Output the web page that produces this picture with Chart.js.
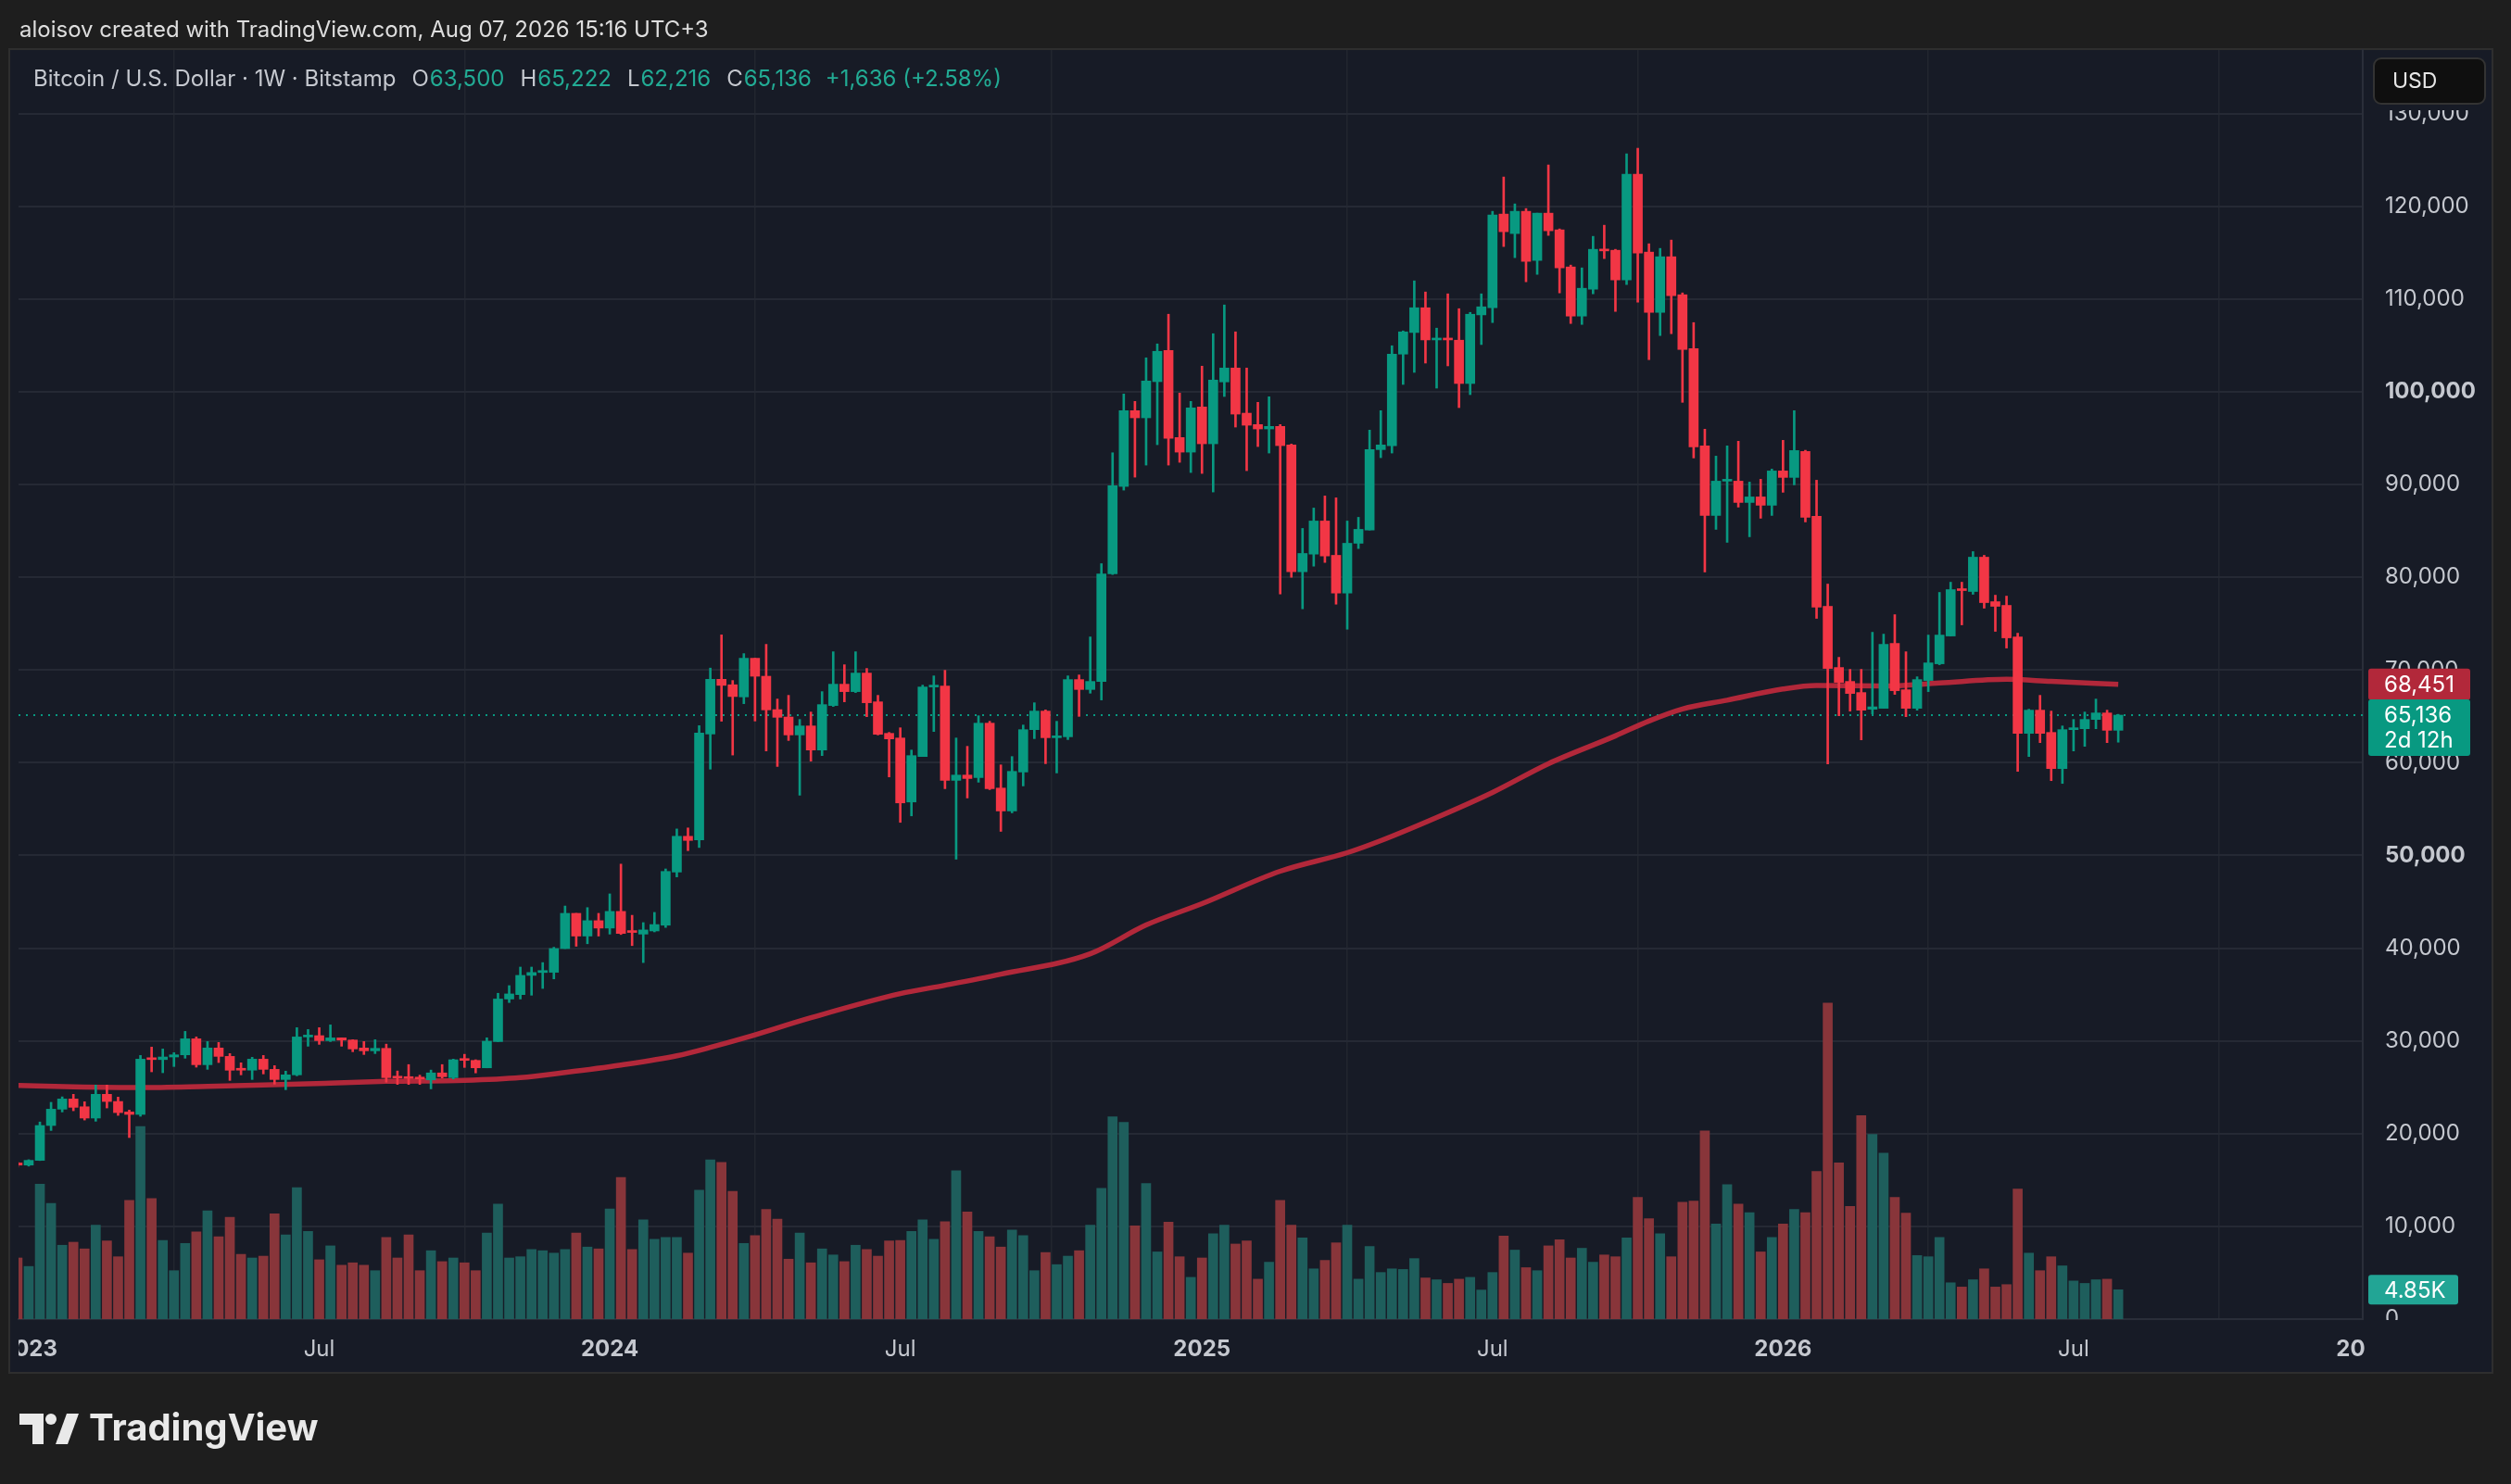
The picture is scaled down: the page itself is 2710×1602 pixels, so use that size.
<!DOCTYPE html>
<html>
<head>
<meta charset="utf-8">
<script src="https://cdn.jsdelivr.net/npm/chart.js@4.4.1/dist/chart.umd.min.js"></script>
<style>
  html, body { margin: 0; padding: 0; background: #1e1e1e; overflow: hidden; }
  canvas { display: block; }
</style>
</head>
<body>
<canvas id="btc" width="2710" height="1602" style="width:2710px;height:1602px"></canvas>
<script>
// weekly candles, index 0 = week of 2022-12-26
const firstWeek = "2022-12-26";

const opens = [
  16840, 16610, 17120, 20880, 22640, 23740, 22900, 21680, 24240, 23470,
  22340, 22075, 28100, 27990, 28270, 28500, 30230, 27435, 29235, 28335,
  27000, 26850, 28035, 26935, 25840, 26340, 30430, 30570, 30030, 30330,
  30100, 29235, 28935, 29200, 26100, 26040, 25970, 25800, 26550, 26040,
  27970, 27900, 27100, 29930, 34520, 35000, 37070, 37380, 37400, 39960,
  43760, 41310, 42970, 42170, 43970, 41800, 41520, 41860, 42480, 48210,
  52070, 51690, 63100, 69000, 68410, 67100, 71270, 69330, 65730, 64930,
  63000, 63970, 61370, 66170, 68470, 67670, 69670, 66570, 63170, 62670,
  55770, 60670, 68170, 68270, 58100, 58670, 58400, 64270, 57270, 54800,
  59000, 63570, 65570, 62700, 62800, 68970, 67900, 68770, 80370, 89800,
  97970, 97200, 101100, 104470, 95070, 93500, 98370, 94400, 101070, 102570,
  97700, 96470, 96000, 96270, 94270, 80600, 82500, 86070, 82370, 78300,
  83670, 85100, 93770, 94200, 104070, 106400, 109070, 105600, 105800, 105570,
  100900, 108300, 109070, 119170, 117070, 119470, 114170, 119270, 117470, 113470,
  108170, 111070, 115370, 115270, 112070, 123470, 115070, 108570, 114570, 110470,
  104670, 94170, 86670, 90370, 90370, 88070, 88670, 87770, 91470, 90770,
  93570, 86570, 76870, 70270, 68770, 67570, 65770, 65870, 72870, 67870,
  65870, 68870, 70670, 73670, 78770, 78470, 82170, 77370, 76970, 73570,
  63170, 65670, 63270, 59370, 63570, 63670, 64670, 65370, 63500
];
const highs = [
  16960, 17190, 21260, 23380, 23970, 24240, 23440, 25240, 25240, 23940,
  22540, 28435, 29334, 29130, 28735, 31030, 30430, 29934, 29834, 28635,
  27640, 28235, 28435, 27335, 26740, 31430, 31230, 31430, 31730, 30330,
  30130, 29934, 30130, 29655, 26760, 27450, 26310, 26860, 27450, 28040,
  28560, 27970, 30340, 35140, 35965, 37965, 37965, 38450, 40100, 44550,
  43760, 44380, 43760, 45860, 49070, 43550, 42760, 43860, 48550, 52860,
  52970, 64000, 70210, 73790, 68870, 71770, 71270, 72770, 66870, 67270,
  64670, 65470, 67670, 71970, 70570, 71970, 70170, 67270, 63270, 63770,
  61370, 68370, 69370, 69970, 62670, 61770, 65070, 64470, 59770, 60670,
  64070, 66470, 65700, 64470, 69370, 69470, 73570, 81470, 93430, 99770,
  98970, 103670, 105170, 108370, 99870, 98970, 102770, 106270, 109370, 106470,
  102570, 98870, 99470, 96470, 94370, 85270, 87470, 88770, 88570, 86070,
  86470, 95870, 97970, 104970, 106570, 111970, 110770, 106870, 110570, 108970,
  108570, 110570, 119470, 123170, 120270, 119770, 119270, 124470, 117570, 113670,
  113370, 116770, 117970, 115370, 125670, 126270, 115970, 115470, 116370, 110670,
  107470, 95970, 93070, 94170, 94670, 90270, 90570, 91670, 94770, 97970,
  93700, 90470, 79270, 71370, 70070, 70070, 74070, 73870, 75970, 71970,
  69270, 73770, 78370, 79470, 79470, 82770, 82370, 78070, 77970, 73970,
  65770, 67270, 65570, 63970, 64670, 65470, 66870, 65670, 65222
];
const lows = [
  16400, 16500, 17100, 20340, 22340, 22470, 21470, 21340, 22770, 21970,
  19580, 21875, 26670, 26570, 27240, 28135, 27170, 26936, 27670, 25740,
  26340, 25840, 26440, 25340, 24740, 26240, 29430, 29630, 29930, 29430,
  28835, 28535, 28635, 25555, 25310, 25310, 25310, 24830, 26000, 25900,
  27140, 26550, 27100, 29930, 34140, 34520, 34930, 35660, 36690, 39960,
  40210, 40480, 41310, 41520, 41480, 40280, 38450, 41760, 42240, 47690,
  50520, 50860, 59310, 64480, 60830, 66370, 64500, 61270, 59600, 62400,
  56500, 60170, 60770, 66070, 66570, 67570, 64970, 63000, 58470, 53570,
  54270, 60670, 63370, 57200, 49600, 56200, 57900, 57100, 52600, 54600,
  57500, 62600, 59900, 58900, 62500, 65000, 67500, 66770, 80300, 89400,
  90800, 92100, 94300, 92100, 92400, 91300, 91200, 89200, 99500, 96200,
  91500, 94100, 93400, 78200, 80000, 76600, 81200, 81600, 77100, 74400,
  83100, 85100, 92900, 93400, 100800, 102100, 103100, 100400, 102800, 98300,
  99700, 105100, 107470, 115670, 114470, 111870, 112670, 116870, 110670, 107370,
  107270, 110570, 114370, 108670, 111570, 109670, 103470, 106070, 106270, 98870,
  92870, 80570, 85170, 83770, 87570, 84370, 86370, 86670, 89170, 89970,
  85970, 75570, 59870, 65070, 65570, 62470, 65270, 65870, 67370, 64970,
  65670, 67670, 70570, 73670, 74870, 78170, 76670, 74170, 72370, 59070,
  60670, 62170, 58070, 57770, 61270, 61770, 63670, 62170, 62216
];
const closes = [
  16610, 17120, 20880, 22640, 23740, 22840, 21680, 24240, 23470, 22270,
  22075, 28035, 27990, 28270, 28500, 30230, 27435, 29235, 28335, 26840,
  26850, 28035, 26935, 25840, 26340, 30430, 30570, 30030, 30330, 30090,
  29135, 28935, 29200, 26040, 26000, 25950, 25900, 26550, 26140, 27970,
  27900, 27100, 29970, 34520, 35070, 37070, 37380, 37590, 39965, 43760,
  41310, 42970, 42170, 43970, 41590, 41700, 41970, 42550, 48280, 52070,
  51620, 63210, 69000, 68345, 67140, 71270, 69330, 65700, 64900, 63000,
  63970, 61370, 66270, 68470, 67670, 69670, 66470, 63070, 62570, 55670,
  60770, 68170, 68300, 58100, 58670, 58300, 64270, 57200, 54800, 59070,
  63570, 65570, 62700, 62900, 68970, 67900, 68770, 80370, 89870, 97970,
  97200, 101170, 104370, 95000, 93500, 98270, 94400, 101270, 102570, 97600,
  96400, 96000, 96270, 94200, 80600, 82570, 86070, 82300, 78300, 83670,
  85170, 93770, 94270, 104070, 106470, 109070, 105600, 105800, 105600, 100900,
  108370, 109170, 119070, 117270, 119470, 114070, 119270, 117370, 113370, 108170,
  111170, 115370, 115200, 112070, 123470, 114970, 108570, 114570, 110370, 104570,
  94070, 86670, 90370, 90450, 88070, 88670, 87770, 91470, 90770, 93670,
  86470, 76770, 70170, 68670, 67470, 65670, 66030, 72770, 67770, 65870,
  68970, 70770, 73770, 78670, 78570, 82170, 77270, 76870, 73470, 63170,
  65670, 63170, 59370, 63570, 63770, 64670, 65370, 63500, 65136
];
// volume in thousands of BTC
const volumes = [
  10.1, 8.7, 22.3, 19.1, 12.2, 12.7, 11.6, 15.5, 12.9, 10.3,
  19.6, 31.8, 19.9, 13.0, 8.0, 12.5, 14.4, 17.9, 13.6, 16.8,
  10.7, 10.1, 10.4, 17.4, 13.9, 21.7, 14.5, 9.8, 12.1, 8.9,
  9.3, 8.9, 8.0, 13.5, 10.1, 13.9, 8.0, 11.3, 9.5, 10.1,
  9.3, 8.0, 14.2, 19.0, 10.1, 10.3, 11.5, 11.3, 10.9, 11.5,
  14.2, 11.9, 11.6, 18.2, 23.4, 11.5, 16.4, 13.2, 13.5, 13.5,
  10.9, 21.3, 26.3, 25.9, 21.1, 12.5, 13.8, 18.1, 16.5, 9.9,
  14.2, 9.3, 11.6, 10.6, 9.5, 12.2, 11.5, 10.4, 12.9, 13.0,
  14.5, 16.4, 13.2, 16.1, 24.5, 17.7, 14.5, 13.6, 11.9, 14.7,
  13.8, 8.0, 11.0, 9.0, 10.4, 11.3, 15.5, 21.6, 33.4, 32.5,
  15.4, 22.4, 11.1, 16.0, 10.3, 6.9, 10.1, 14.1, 15.5, 12.4,
  12.9, 6.6, 9.4, 19.6, 15.5, 13.4, 8.3, 9.7, 12.6, 15.5,
  6.6, 12.0, 7.7, 8.3, 8.2, 10.0, 6.8, 6.5, 5.9, 6.6,
  6.9, 4.8, 7.7, 13.7, 11.4, 8.5, 8.0, 12.1, 13.1, 10.1,
  11.7, 9.4, 10.6, 10.3, 13.4, 20.1, 16.6, 14.1, 10.3, 19.3,
  19.5, 31.1, 15.7, 22.2, 19.0, 17.6, 11.1, 13.5, 15.7, 18.1,
  17.6, 24.4, 52.2, 25.8, 18.6, 33.6, 30.5, 27.4, 20.1, 17.5,
  10.5, 10.3, 13.5, 6.0, 5.3, 6.5, 8.3, 5.3, 5.7, 21.5,
  10.9, 8.0, 10.3, 8.8, 6.3, 5.9, 6.5, 6.6, 4.85
];
// moving average, read at a few weeks along the curve
const maWeeks = [0, 5, 11, 17, 22, 28, 33, 40, 45, 49, 54, 59, 62, 65, 71, 79, 83, 88, 96, 101,
                 106, 113, 119, 122, 127, 132, 137, 143, 146, 149, 153, 158, 161, 167, 172, 178, 182, 188];
const maValues = [25200, 25050, 24970, 25100, 25240, 25450, 25640, 25750, 26050, 26600, 27400, 28400,
                  29300, 30300, 32500, 35100, 36000, 37200, 39400, 42500, 44800, 48300, 50300, 51600,
                  54100, 56800, 59900, 62900, 64500, 65800, 66750, 67950, 68330, 68270, 68600, 69000, 68770, 68451];

const xTickWeeks = [1, 27, 53, 79, 106, 132, 158, 184, 210];
const xTickLabels = ["2023", "Jul", "2024", "Jul", "2025", "Jul", "2026", "Jul", "2027"];
const priceTicks = [0, 10000, 20000, 30000, 40000, 50000, 60000, 70000, 80000, 90000, 100000, 110000, 120000, 130000];
const timeLeft = "2d 12h";

const FONT = "Inter, Roboto, 'Noto Sans', sans-serif";
const GREEN = "#089981";
const RED = "#f23645";
const VOL_GREEN = "#1e5e5c";
const VOL_RED = "#88353a";
const MA_COLOR = "#b2283a";
const GRID = "#252934";
const VGRID = "#22262f";
const PANEL = "#171b26";
const TEXT = "#c5c8cf";

const fmt = v => v.toLocaleString("en-US");
const idx = opens.map((_, i) => i);
const isUp = i => closes[i] >= opens[i];
const last = closes.length - 1;

function roundRect(ctx, x, y, w, h, r) {
  ctx.beginPath();
  ctx.moveTo(x + r, y);
  ctx.arcTo(x + w, y, x + w, y + h, r);
  ctx.arcTo(x + w, y + h, x, y + h, r);
  ctx.arcTo(x, y + h, x, y, r);
  ctx.arcTo(x, y, x + w, y, r);
  ctx.closePath();
}

const tvPlugin = {
  id: "tv",
  beforeDraw(chart) {
    const ctx = chart.ctx;
    ctx.save();
    ctx.fillStyle = "#1e1e1e";
    ctx.fillRect(0, 0, chart.width, chart.height);
    ctx.fillStyle = "#dedede";
    ctx.font = `24px ${FONT}`;
    ctx.textBaseline = "middle";
    ctx.fillText("aloisov created with TradingView.com, Aug 07, 2026 15:16 UTC+3", 21, 33);
    ctx.fillStyle = PANEL;
    ctx.fillRect(10, 53, 2680, 1429);
    ctx.strokeStyle = "#2e2e2e";
    ctx.lineWidth = 2;
    ctx.strokeRect(10, 53, 2680, 1429);
    ctx.restore();
  },
  beforeDatasetsDraw(chart) {
    // dotted line at the last close
    const ctx = chart.ctx, ca = chart.chartArea;
    const y = Math.round(chart.scales.y.getPixelForValue(closes[last]));
    ctx.save();
    ctx.strokeStyle = GREEN;
    ctx.lineWidth = 2;
    ctx.setLineDash([2, 6]);
    ctx.beginPath();
    ctx.moveTo(ca.left, y);
    ctx.lineTo(ca.right, y);
    ctx.stroke();
    ctx.restore();
  },
  afterDraw(chart) {
    const ctx = chart.ctx, ca = chart.chartArea;
    const xs = chart.scales.x, ys = chart.scales.y, yv = chart.scales.yVol;
    ctx.save();

    // legend line
    let x = 36;
    const ly = 86;
    ctx.font = `24px ${FONT}`;
    ctx.textBaseline = "middle";
    ctx.textAlign = "left";
    const seg = (t, c, gap) => { ctx.fillStyle = c; ctx.fillText(t, x, ly); x += ctx.measureText(t).width + gap; };
    const change = closes[last] - closes[last - 1];
    const pct = (change / closes[last - 1] * 100).toFixed(2);
    const valCol = isUp(last) ? "#22ab94" : RED;
    seg("Bitcoin / U.S. Dollar · 1W · Bitstamp", TEXT, 17);
    seg("O", TEXT, 1); seg(fmt(opens[last]), valCol, 17);
    seg("H", TEXT, 1); seg(fmt(highs[last]), valCol, 17);
    seg("L", TEXT, 1); seg(fmt(lows[last]), valCol, 17);
    seg("C", TEXT, 1); seg(fmt(closes[last]), valCol, 15);
    seg(`${change >= 0 ? "+" : ""}${fmt(change)} (${change >= 0 ? "+" : ""}${pct}%)`, valCol, 0);

    // time axis labels, clipped to the plot width
    ctx.save();
    ctx.beginPath();
    ctx.rect(ca.left, ca.bottom + 2, ca.right - ca.left + 3, 56);
    ctx.clip();
    ctx.textAlign = "center";
    xTickWeeks.forEach((w, k) => {
      const lbl = xTickLabels[k];
      ctx.font = `${/^\d{4}$/.test(lbl) ? "bold " : ""}24px ${FONT}`;
      ctx.fillStyle = TEXT;
      ctx.fillText(lbl, xs.getPixelForValue(w), ca.bottom + 33);
    });
    ctx.restore();

    // hide the lower half of "0" and upper part of the top price label
    ctx.fillStyle = PANEL;
    ctx.fillRect(ca.right + 2, ca.bottom + 1, 2688 - ca.right - 2, 56);
    ctx.fillRect(ca.right + 2, 55, 2688 - ca.right - 2, 64);

    // USD button
    roundRect(ctx, 2562, 63, 120, 49, 8);
    ctx.fillStyle = "#0f0f0f";
    ctx.fill();
    ctx.strokeStyle = "#333333";
    ctx.lineWidth = 2;
    ctx.stroke();
    ctx.fillStyle = "#e6e6e6";
    ctx.font = `23px ${FONT}`;
    ctx.fillText("USD", 2582, 88);

    // price tags
    ctx.font = `24px ${FONT}`;
    const yMa = ys.getPixelForValue(maValues[maValues.length - 1]);
    roundRect(ctx, 2556, yMa - 17, 110, 34, 3);
    ctx.fillStyle = MA_COLOR;
    ctx.fill();
    ctx.fillStyle = "#ffffff";
    ctx.fillText(fmt(maValues[maValues.length - 1]), 2573, yMa + 1);

    const yP = ys.getPixelForValue(closes[last]);
    roundRect(ctx, 2556, yP - 17, 110, 61, 3);
    ctx.fillStyle = GREEN;
    ctx.fill();
    ctx.fillStyle = "#ffffff";
    ctx.fillText(fmt(closes[last]), 2573, yP + 1);
    ctx.fillText(timeLeft, 2573, yP + 28);

    const yV = yv.getPixelForValue(volumes[last]);
    roundRect(ctx, 2556, yV - 16, 97, 32, 3);
    ctx.fillStyle = "#22a595";
    ctx.fill();
    ctx.fillStyle = "#ffffff";
    ctx.fillText(volumes[last].toFixed(2) + "K", 2573, yV + 1);

    // footer logo
    ctx.fillStyle = "#e9e9e9";
    ctx.beginPath();
    ctx.moveTo(21, 1526); ctx.lineTo(47, 1526); ctx.lineTo(47, 1559); ctx.lineTo(35, 1559);
    ctx.lineTo(35, 1538); ctx.lineTo(21, 1538); ctx.closePath(); ctx.fill();
    ctx.beginPath(); ctx.arc(55, 1532, 6, 0, Math.PI * 2); ctx.fill();
    ctx.beginPath();
    ctx.moveTo(60, 1559); ctx.lineTo(72, 1526); ctx.lineTo(85, 1526); ctx.lineTo(73, 1559);
    ctx.closePath(); ctx.fill();
    ctx.font = `bold 40px ${FONT}`;
    ctx.fillText("TradingView", 96, 1543);

    ctx.restore();
  }
};

new Chart(document.getElementById("btc"), {
  type: "bar",
  data: {
    datasets: [
      {
        type: "bar",
        label: "body",
        data: idx.map(i => ({ x: i, y: [Math.min(opens[i], closes[i]), Math.max(opens[i], closes[i])] })),
        backgroundColor: idx.map(i => isUp(i) ? GREEN : RED),
        barThickness: 10,
        minBarLength: 2,
        grouped: false,
        yAxisID: "y",
        order: 1
      },
      {
        type: "bar",
        label: "wick",
        data: idx.map(i => ({ x: i, y: [lows[i], highs[i]] })),
        backgroundColor: idx.map(i => isUp(i) ? GREEN : RED),
        barThickness: 2,
        grouped: false,
        yAxisID: "y",
        order: 2
      },
      {
        type: "line",
        label: "MA",
        data: maWeeks.map((w, k) => ({ x: w, y: maValues[k] })),
        borderColor: MA_COLOR,
        borderWidth: 5.5,
        pointRadius: 0,
        cubicInterpolationMode: "monotone",
        yAxisID: "y",
        order: 3
      },
      {
        type: "bar",
        label: "volume",
        data: idx.map(i => ({ x: i, y: volumes[i] })),
        backgroundColor: idx.map(i => isUp(i) ? VOL_GREEN : VOL_RED),
        barThickness: 10,
        grouped: false,
        yAxisID: "yVol",
        order: 4
      }
    ]
  },
  options: {
    responsive: false,
    animation: false,
    devicePixelRatio: 1,
    layout: { padding: { left: 20, top: 54, right: 20, bottom: 120 } },
    plugins: { legend: { display: false }, tooltip: { enabled: false } },
    scales: {
      x: {
        type: "linear",
        min: 0.09,
        max: 209.88,
        offset: false,
        afterBuildTicks: s => { s.ticks = xTickWeeks.filter(w => w <= s.max).map(v => ({ value: v })); },
        afterFit: s => { s.height = 58; },
        grid: { color: VGRID, lineWidth: 1.5, drawTicks: false },
        border: { display: true, color: "#2a2e39", width: 2 },
        ticks: { display: false }
      },
      y: {
        type: "linear",
        position: "right",
        min: 0,
        max: 136863,
        afterBuildTicks: s => { s.ticks = priceTicks.map(v => ({ value: v })); },
        afterFit: s => { s.width = 140; },
        grid: { color: GRID, lineWidth: 2, drawTicks: false },
        border: { display: true, color: "#2a2e39", width: 2 },
        ticks: {
          padding: 24,
          color: TEXT,
          autoSkip: false,
          font: c => ({ family: FONT, size: 24, weight: (c.tick && c.tick.value > 0 && c.tick.value % 50000 === 0) ? "bold" : "normal" }),
          callback: v => fmt(v)
        }
      },
      yVol: { type: "linear", display: false, min: 0, max: 209.6 }
    }
  },
  plugins: [tvPlugin]
});
</script>
</body>
</html>
